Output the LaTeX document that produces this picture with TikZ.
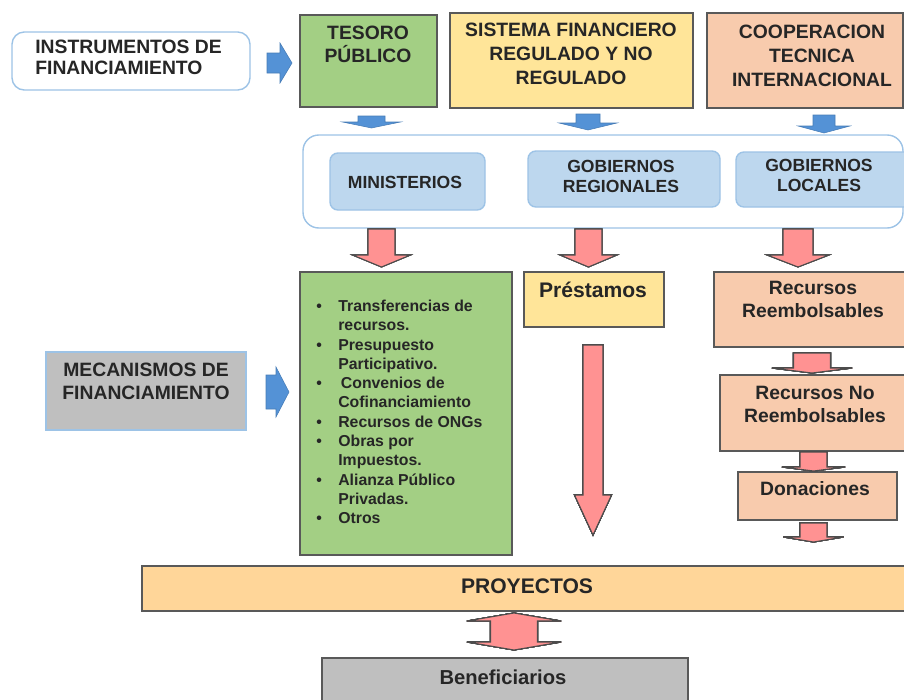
\documentclass[tikz,border=0pt]{standalone}
\usepackage{fontspec}
\setmainfont{Liberation Sans}
\usetikzlibrary{fit}

\definecolor{verde}{RGB}{163,207,132}
\definecolor{amarillo}{RGB}{255,229,153}
\definecolor{salmon}{RGB}{248,203,173}
\definecolor{celeste}{RGB}{189,215,238}
\definecolor{bordeazul}{RGB}{157,195,230}
\definecolor{gris}{RGB}{191,191,191}
\definecolor{naranja}{RGB}{255,214,153}
\definecolor{azulflecha}{RGB}{84,146,214}
\definecolor{rosa}{RGB}{255,146,146}

% block arrows: style, x, top, head base, tip, half shaft, half head
\newcommand{\flechaabajo}[7]{\draw[#1] (#2-#6,#3) -- (#2+#6,#3) -- (#2+#6,#4) -- (#2+#7,#4) -- (#2,#5) -- (#2-#7,#4) -- (#2-#6,#4) -- cycle;}
% style, y, left, head base, tip, half shaft, half head
\newcommand{\flechaderecha}[7]{\draw[#1] (#3,#2-#6) -- (#4,#2-#6) -- (#4,#2-#7) -- (#5,#2) -- (#4,#2+#7) -- (#4,#2+#6) -- (#3,#2+#6) -- cycle;}
\newcommand{\vineta}[1]{\makebox[12.5pt][l]{•}#1}
\newcommand{\sigue}[1]{\hspace*{12.5pt}#1}

\begin{document}
\begin{tikzpicture}[x=0.02cm,y=-0.02cm,
caja/.style={draw=black!65,line width=0.6pt,inner sep=0pt},
suave/.style={draw=bordeazul,line width=0.8pt,inner sep=0pt,rounded corners=4.5pt,fill=celeste},
texto/.style={font=\bfseries\fontsize{11}{13}\selectfont,align=center,text=black!85,inner sep=0pt},
azul/.style={fill=azulflecha,draw=azulflecha!85!black,line width=0.3pt},
roja/.style={fill=rosa,draw=black!70,line width=0.6pt}
]
\useasboundingbox (0,0) rectangle (904,700);
\clip (0,0) rectangle (904,700);

% fila superior: instrumentos
\node[caja,draw=bordeazul,line width=0.8pt,rounded corners=7pt,fill=white,fit={(12,32) (250,90)}] (instr) {};
\node[texto,align=left,anchor=west,font=\bfseries\fontsize{11}{12}\selectfont] (instrT) at (35,57.5) {INSTRUMENTOS DE\\FINANCIAMIENTO};
\node[caja,fill=verde,fit={(300,15) (437,107)}] (tesoro) {};
\node[texto] (tesoroT) at (368,44) {TESORO\\PÚBLICO};
\node[caja,fill=amarillo,fit={(450,13) (693,108)}] (sistema) {};
\node[texto,font=\bfseries\fontsize{11}{13.5}\selectfont] (sistemaT) at (571,54) {SISTEMA FINANCIERO\\REGULADO Y NO\\REGULADO};
\node[caja,fill=salmon,fit={(707,13) (903,108)}] (coop) {};
\node[texto,font=\bfseries\fontsize{11}{13.6}\selectfont] (coopT) at (812,56) {COOPERACION\\TECNICA\\INTERNACIONAL};

% gobiernos
\node[caja,draw=bordeazul,line width=0.8pt,rounded corners=9pt,fill=white,fit={(303,135) (903,228)}] (estado) {};
\node[suave,fit={(330,153) (485,210)}] (minis) {};
\node[texto,font=\bfseries\fontsize{10}{11}\selectfont] (minisT) at (405,182) {MINISTERIOS};
\node[suave,fit={(528,151) (720,207)}] (gobreg) {};
\node[texto,font=\bfseries\fontsize{10}{11}\selectfont] (gobregT) at (621,176.5) {GOBIERNOS\\REGIONALES};
\node[suave,fit={(736,152) (915,207)}] (gobloc) {};
\node[texto,font=\bfseries\fontsize{10}{11}\selectfont] (goblocT) at (819,175.5) {GOBIERNOS\\LOCALES};

% mecanismos
\node[caja,draw=bordeazul,line width=0.8pt,fill=gris,fit={(46,352) (246,430)}] (mecan) {};
\node[texto] (mecanT) at (146,381.5) {MECANISMOS DE\\FINANCIAMIENTO};
\node[caja,fill=verde,fit={(300,272) (512,555)}] (lista) {};
\node[texto,align=left,anchor=west,font=\bfseries\fontsize{9}{11}\selectfont] (listaT) at (316,412)
{\vineta{Transferencias de}\\\sigue{recursos.}\\\vineta{Presupuesto}\\\sigue{Participativo.}\\
\vineta{\,Convenios de}\\\sigue{Cofinanciamiento}\\\vineta{Recursos de ONGs}\\\vineta{Obras por}\\
\sigue{Impuestos.}\\\vineta{Alianza Público}\\\sigue{Privadas.}\\\vineta{Otros}};
\node[caja,fill=amarillo,fit={(524,272) (664,327)}] (prest) {};
\node[texto,font=\bfseries\fontsize{12}{14}\selectfont] (prestT) at (593,290) {Préstamos};
\node[caja,fill=salmon,fit={(714,272) (910,347)}] (reemb) {};
\node[texto] (reembT) at (813,299.5) {Recursos\\Reembolsables};
\node[caja,fill=salmon,fit={(720,375) (910,451)}] (noreemb) {};
\node[texto] (noreembT) at (815,404.5) {Recursos No\\Reembolsables};
\node[caja,fill=salmon,fit={(738,472) (897,520)}] (donac) {};
\node[texto] (donacT) at (815,489) {Donaciones};

% proyectos y beneficiarios
\node[caja,fill=naranja,fit={(142,566) (910,611)}] (proy) {};
\node[texto,font=\bfseries\fontsize{12}{14}\selectfont] (proyT) at (527,586) {PROYECTOS};
\node[caja,fill=gris,fit={(322,658) (688,710)}] (benef) {};
\node[texto,font=\bfseries\fontsize{11.5}{13}\selectfont] (benefT) at (503,677) {Beneficiarios};

% flechas
\flechaderecha{azul}{63}{267}{280}{292}{10}{20}
\flechaderecha{azul}{392}{266}{276}{289}{17}{25}
\foreach \x/\t/\b/\p/\s/\h in {371.5/116/122/128/13.5/29, 588/114/123/130/12/29, 824/115/126/133/11/26}
  \flechaabajo{azul}{\x}{\t}{\b}{\p}{\s}{\h}
\foreach \x/\s/\h in {381.5/13.5/29, 588.5/13.5/28.5, 798/15/31}
  \flechaabajo{roja}{\x}{229}{255}{267}{\s}{\h}
\flechaabajo{roja}{593}{345}{495}{535}{10}{18.5}
\flechaabajo{roja}{812}{353}{368}{373}{18.5}{40}
\flechaabajo{roja}{813.5}{452}{467}{471}{13.5}{31.5}
\flechaabajo{roja}{813.5}{523}{537}{542}{13.5}{30}
\draw[roja] (490.5,621) -- (467,621) -- (514,613) -- (561,621) -- (537.5,621) -- (537.5,642)
  -- (561,642) -- (514,650) -- (467,642) -- (490.5,642) -- cycle;
\end{tikzpicture}
\end{document}
